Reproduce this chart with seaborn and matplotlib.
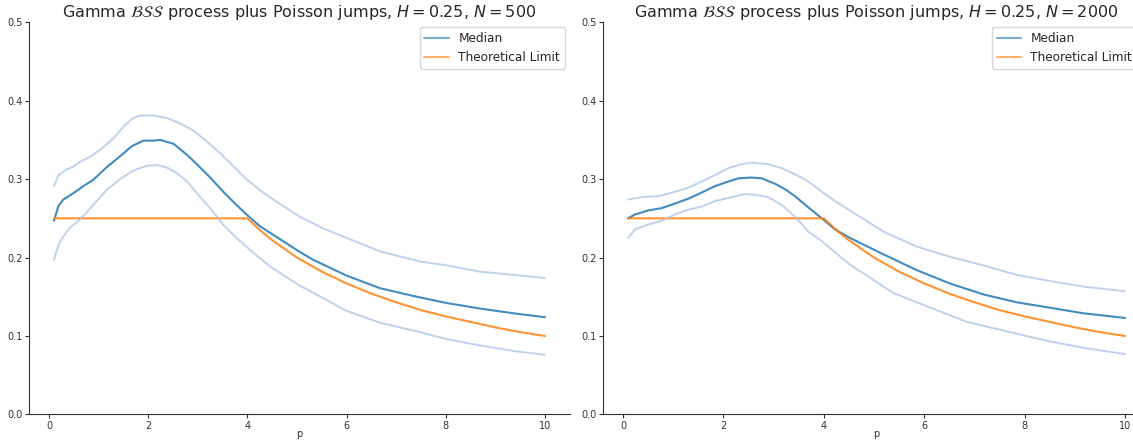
import numpy as np
import pandas as pd
import matplotlib
matplotlib.use('Agg')
import matplotlib.pyplot as plt
import seaborn as sns

# values
# N = 500 panel
p_med_500 = [0.1, 0.19, 0.29, 0.49, 0.69, 0.89, 1.16, 1.43, 1.67, 1.9, 2.1, 2.24, 2.51, 2.78, 2.98,
             3.25, 3.51, 3.78, 3.98, 4.25, 4.52, 4.79, 5.06, 5.33, 6.0, 6.67, 7.35, 8.02, 8.69, 9.36, 10.0]
med_500 = [0.247, 0.266, 0.274, 0.282, 0.291, 0.299, 0.315, 0.329, 0.342, 0.349, 0.349, 0.350, 0.345, 0.331, 0.319,
           0.302, 0.284, 0.267, 0.255, 0.240, 0.229, 0.218, 0.207, 0.197, 0.177, 0.161, 0.151, 0.142, 0.135, 0.129, 0.124]

p_hi_500 = [0.1, 0.19, 0.35, 0.49, 0.62, 0.75, 0.89, 1.1, 1.3, 1.5, 1.7, 1.83, 2.1, 2.37, 2.64, 2.91, 3.18,
            3.45, 3.72, 3.98, 4.25, 4.52, 4.79, 5.06, 5.53, 6.0, 6.67, 7.48, 8.02, 8.69, 9.36, 10.0]
hi_500 = [0.291, 0.305, 0.312, 0.316, 0.322, 0.326, 0.331, 0.341, 0.352, 0.367, 0.378, 0.381, 0.381, 0.378, 0.371,
          0.362, 0.348, 0.333, 0.316, 0.300, 0.286, 0.274, 0.263, 0.252, 0.237, 0.225, 0.208, 0.195, 0.190, 0.182,
          0.178, 0.174]

p_lo_500 = [0.1, 0.19, 0.29, 0.42, 0.58, 0.75, 0.96, 1.16, 1.43, 1.7, 1.97, 2.17, 2.37, 2.57, 2.78, 2.98, 3.25,
            3.51, 3.78, 4.12, 4.45, 4.79, 5.06, 5.33, 6.0, 6.67, 7.48, 8.02, 8.69, 9.36, 10.0]
lo_500 = [0.197, 0.216, 0.227, 0.238, 0.246, 0.257, 0.272, 0.286, 0.300, 0.311, 0.317, 0.318, 0.315, 0.308, 0.297,
          0.282, 0.263, 0.242, 0.225, 0.206, 0.189, 0.175, 0.164, 0.155, 0.132, 0.117, 0.105, 0.096, 0.088, 0.081,
          0.076]

# N = 2000 panel
p_med_2000 = [0.1, 0.24, 0.5, 0.77, 1.04, 1.3, 1.57, 1.83, 2.1, 2.3, 2.56, 2.76, 3.03, 3.23, 3.43, 3.69, 3.96,
              4.22, 4.52, 5.19, 5.85, 6.51, 7.18, 7.84, 8.51, 9.17, 10.0]
med_2000 = [0.250, 0.255, 0.260, 0.263, 0.269, 0.275, 0.283, 0.291, 0.297, 0.301, 0.302, 0.301, 0.294, 0.287,
            0.278, 0.264, 0.250, 0.236, 0.225, 0.204, 0.184, 0.167, 0.153, 0.143, 0.136, 0.129, 0.123]

p_hi_2000 = [0.1, 0.37, 0.64, 0.77, 1.04, 1.3, 1.57, 1.83, 2.1, 2.36, 2.56, 2.89, 3.16, 3.43, 3.69, 3.96, 4.22,
             4.52, 5.19, 5.85, 6.51, 7.18, 7.84, 8.51, 9.17, 10.0]
hi_2000 = [0.274, 0.277, 0.278, 0.279, 0.284, 0.289, 0.297, 0.305, 0.314, 0.319, 0.321, 0.319, 0.314, 0.306,
           0.297, 0.284, 0.272, 0.260, 0.233, 0.214, 0.201, 0.190, 0.178, 0.170, 0.163, 0.157]

p_lo_2000 = [0.1, 0.24, 0.5, 0.77, 1.04, 1.3, 1.57, 1.83, 2.1, 2.43, 2.63, 2.89, 3.16, 3.43, 3.69, 3.96, 4.22,
             4.52, 5.38, 5.85, 6.85, 7.84, 8.51, 9.17, 10.0]
lo_2000 = [0.225, 0.236, 0.242, 0.247, 0.255, 0.261, 0.265, 0.272, 0.276, 0.281, 0.280, 0.277, 0.267, 0.252,
           0.233, 0.221, 0.207, 0.191, 0.155, 0.143, 0.118, 0.103, 0.093, 0.085, 0.077]

# theoretical limit (same in both panels)
p_lim = [0.1, 1.0, 2.0, 3.0, 4.0, 4.25, 4.5, 4.75, 5.0, 5.5, 6.0, 6.5, 7.0, 7.5, 8.0, 8.5, 9.0, 9.5, 10.0]
lim = [0.25, 0.25, 0.25, 0.25, 0.25, 0.235, 0.222, 0.211, 0.2, 0.182, 0.167, 0.154, 0.143, 0.133, 0.125,
       0.118, 0.111, 0.105, 0.1]

panels = [
    ('500', p_med_500, med_500, p_hi_500, hi_500, p_lo_500, lo_500),
    ('2000', p_med_2000, med_2000, p_hi_2000, hi_2000, p_lo_2000, lo_2000),
]

sns.set_style('ticks')
plt.rcParams['font.family'] = ['DejaVu Sans']

fig = plt.figure(figsize=(11.33, 4.4), dpi=100)
axes = [fig.add_axes([0.026, 0.058, 0.4767, 0.8916]),
        fig.add_axes([0.5324, 0.058, 0.4825, 0.8916])]

band_color = '#aec7e8'
for i, (ax, (n, pm, m, ph, h, pl, l)) in enumerate(zip(axes, panels)):
    sns.lineplot(x=pm, y=m, ax=ax, color='#1f77b4', lw=1.5, alpha=0.85, label='Median')
    sns.lineplot(x=p_lim, y=lim, ax=ax, color='#ff7f0e', lw=1.5, alpha=0.85, label='Theoretical Limit')
    sns.lineplot(x=ph, y=h, ax=ax, color=band_color, lw=1.4, alpha=0.8)
    sns.lineplot(x=pl, y=l, ax=ax, color=band_color, lw=1.4, alpha=0.8)
    ax.set_xlim(-0.395, 10.495)
    ax.set_ylim(0, 0.5)
    ax.set_xticks([0, 2, 4, 6, 8, 10])
    ax.set_yticks([0.0, 0.1, 0.2, 0.3, 0.4, 0.5])
    ax.tick_params(labelsize=7, length=3, pad=2, colors='#333333')
    ax.set_xlabel('p', fontsize=7, color='#333333', labelpad=-2)
    ax.set_title(r'Gamma $\mathcal{BSS}$ process plus Poisson jumps, $H=0.25$, $N=%s$' % n,
                 fontsize=11.5, pad=2)
    # the right panel is cropped at the figure edge, keep its legend inside the picture
    anchor = (1.0, 1.0) if i == 0 else (0.985, 1.0)
    leg = ax.legend(loc='upper right', bbox_to_anchor=anchor, fontsize=8.7, frameon=True,
                    borderaxespad=0.4)
    for line in leg.get_lines():
        line.set_alpha(0.6)
    for s in ['left', 'bottom']:
        ax.spines[s].set_color('#333333')
    sns.despine(ax=ax)

fig.savefig('out.png', dpi=100)
